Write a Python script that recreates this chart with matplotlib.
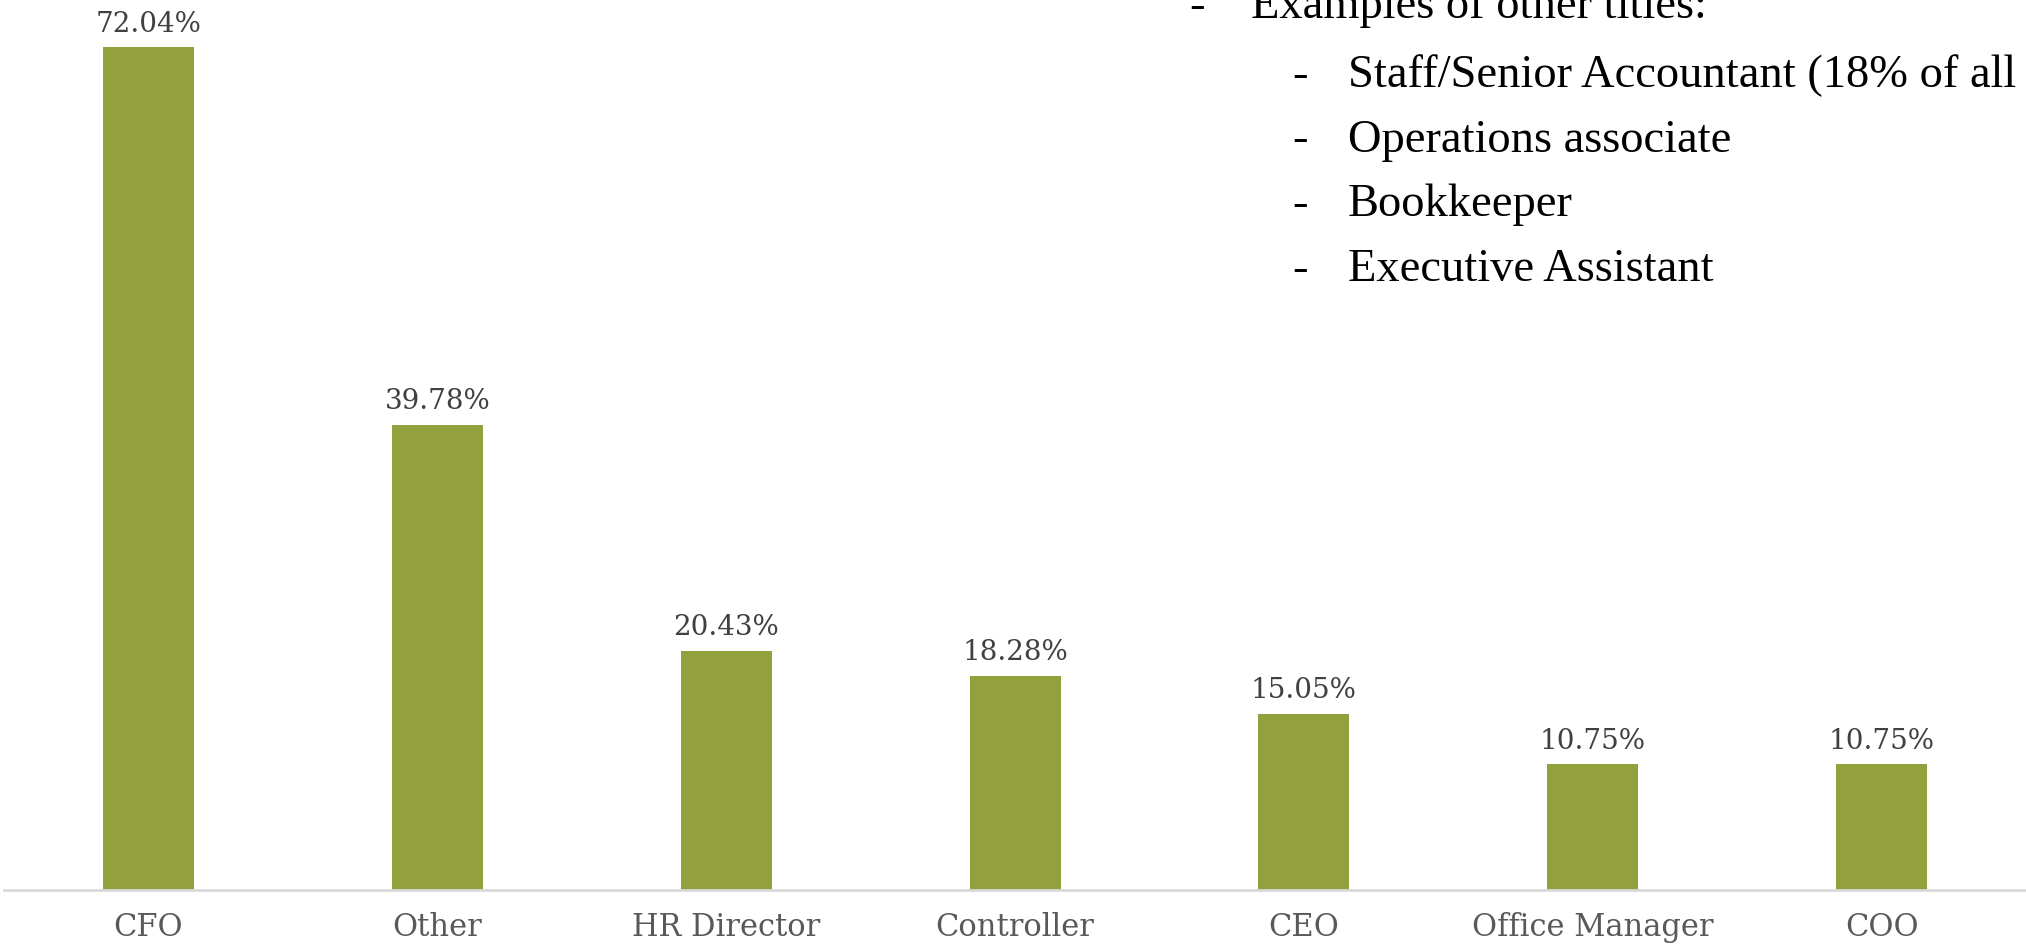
import matplotlib.pyplot as plt
import numpy as np

# data
titles = ['CFO', 'Other', 'HR Director', 'Controller', 'CEO', 'Office Manager', 'COO']
shares = [72.04, 39.78, 20.43, 18.28, 15.05, 10.75, 10.75]

note_head = 'Examples of other titles:'
note_items = ['Staff/Senior Accountant (18% of all',
              'Operations associate',
              'Bookkeeper',
              'Executive Assistant']

bar_color = '#92a03d'

fig = plt.figure(figsize=(20.26, 9.47), dpi=100)
ax = fig.add_axes([0.002, 0.0602, 0.998, 0.9398])

x = np.arange(len(titles))
bars = ax.bar(x, shares, width=0.315, color=bar_color)

ax.set_xlim(-0.5, len(titles) - 0.5)
ax.set_ylim(0, 76.1)

for b, v in zip(bars, shares):
    ax.annotate('%.2f%%' % v, (b.get_x() + b.get_width() / 2, v),
                xytext=(0, 7), textcoords='offset points',
                ha='center', va='bottom', fontsize=20,
                family='DejaVu Serif', color='#404040')

ax.set_xticks(x)
ax.set_xticklabels(titles, family='DejaVu Serif', fontsize=22, color='#595959')
ax.tick_params(axis='x', length=0, pad=16)
ax.set_yticks([])

for s in ['top', 'right', 'left']:
    ax.spines[s].set_visible(False)
ax.spines['bottom'].set_color('#d9d9d9')
ax.spines['bottom'].set_linewidth(2)

# note in the top right corner
W, H = 2026, 947
note_font = dict(family='Liberation Serif', fontsize=33.5, color='black', va='baseline')
fig.text(1189 / W, 1 - 18 / H, '-', **note_font)
fig.text(1251 / W, 1 - 18 / H, note_head, **note_font)
for i, item in enumerate(note_items):
    yb = 1 - (87 + 64.5 * i) / H
    fig.text(1292 / W, yb, '-', **note_font)
    fig.text(1348 / W, yb, item, **note_font)

fig.savefig('out.png', dpi=100)
